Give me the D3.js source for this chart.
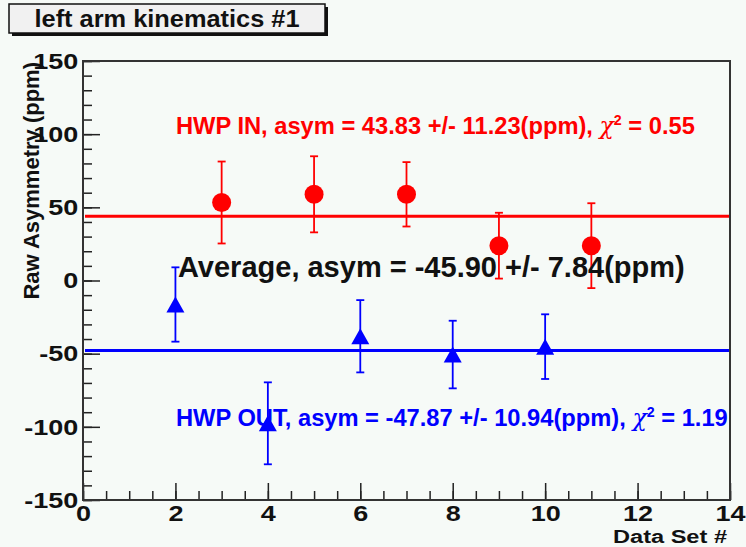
<!DOCTYPE html>
<html>
<head>
<meta charset="utf-8">
<script src="https://cdn.jsdelivr.net/npm/d3@7"></script>
<style>
  html, body { margin: 0; padding: 0; background: #f6faf7; }
  svg { display: block; }
  text { font-family: "Liberation Sans", Arial, Helvetica, sans-serif; font-weight: bold; }
</style>
</head>
<body>
<svg id="chart" width="746" height="547"></svg>
<script>
// HWP IN data sets (odd runs)
const inSets   = [3, 5, 7, 9, 11];
const inAsym   = [53.3, 58.9, 58.9, 23.8, 23.8];
const inErr    = [28.0, 26.0, 22.0, 22.5, 29.0];
// HWP OUT data sets (even runs)
const outSets  = [2, 4, 6, 8, 10];
const outAsym  = [-16.4, -97.6, -38.1, -50.6, -45.2];
const outErr   = [25.4, 28.0, 24.7, 23.1, 22.1];
// fitted constants
const fitIn  = 43.83;
const fitOut = -47.87;
// axis ticks
const xTicks = [0, 2, 4, 6, 8, 10, 12, 14];
const yTicks = [-150, -100, -50, 0, 50, 100, 150];

const svg = d3.select("#chart");
const W = 746, H = 547;
const frame = { left: 83, right: 730, top: 61, bottom: 500 };

const x = d3.scaleLinear().domain([0, 14]).range([frame.left, frame.right]);
const y = d3.scaleLinear().domain([-150, 150]).range([frame.bottom, frame.top]);

// plain hyphen for negatives
const fmt = d => String(d);

svg.append("rect").attr("width", W).attr("height", H).attr("fill", "#f6faf7");

// title box with drop shadow
svg.append("rect").attr("x", 12).attr("y", 7).attr("width", 316).attr("height", 29).attr("fill", "#111");
svg.append("rect").attr("x", 9).attr("y", 4).attr("width", 316).attr("height", 29)
  .attr("fill", "#f1f1f1").attr("stroke", "#111").attr("stroke-width", 1.5);
svg.append("text").attr("x", 167).attr("y", 27).attr("text-anchor", "middle")
  .attr("font-size", 23).attr("textLength", 265).attr("lengthAdjust", "spacingAndGlyphs")
  .attr("fill", "#111").text("left arm kinematics #1");

// axes: ticks point into the frame
const tickStretch = 1.2;
const yMinor = d3.range(-150, 151, 10);
const xMinor = d3.range(0, 14.01, 0.5);

svg.append("g").attr("transform", `translate(${frame.left},0)`)
  .call(d3.axisLeft(y).tickValues(yMinor).tickSize(-9).tickFormat(""))
  .call(g => g.select(".domain").remove())
  .selectAll("line").attr("stroke", "#222").attr("stroke-width", 1.5);

const gy = svg.append("g").attr("transform", `translate(${frame.left},0)`)
  .call(d3.axisLeft(y).tickValues(yTicks).tickSize(-17).tickPadding(4).tickFormat(fmt));
gy.select(".domain").remove();
gy.selectAll("line").attr("stroke", "#222").attr("stroke-width", 1.5);
gy.selectAll("text").attr("font-size", 22.5).attr("fill", "#111")
  .attr("transform", `scale(${tickStretch},1)`);

svg.append("g").attr("transform", `translate(0,${frame.bottom})`)
  .call(d3.axisBottom(x).tickValues(xMinor).tickSize(-9).tickFormat(""))
  .call(g => g.select(".domain").remove())
  .selectAll("line").attr("stroke", "#222").attr("stroke-width", 1.5);

const gx = svg.append("g").attr("transform", `translate(0,${frame.bottom})`)
  .call(d3.axisBottom(x).tickValues(xTicks).tickSize(-17).tickPadding(5).tickFormat(fmt));
gx.select(".domain").remove();
gx.selectAll("line").attr("stroke", "#222").attr("stroke-width", 1.5);
gx.selectAll("text").attr("font-size", 22.5).attr("fill", "#111")
  .attr("transform", `scale(${tickStretch},1)`);

// frame
svg.append("rect").attr("x", frame.left).attr("y", frame.top)
  .attr("width", frame.right - frame.left).attr("height", frame.bottom - frame.top)
  .attr("fill", "none").attr("stroke", "#333").attr("stroke-width", 2);

// axis titles
svg.append("text").attr("transform", "translate(39,62) rotate(-90)").attr("text-anchor", "end")
  .attr("font-size", 22).attr("fill", "#111").text("Raw Asymmetry (ppm)");
svg.append("text").attr("x", 727).attr("y", 543).attr("text-anchor", "end")
  .attr("font-size", 18).attr("textLength", 114).attr("lengthAdjust", "spacingAndGlyphs")
  .attr("fill", "#111").text("Data Set #");

// fit lines
svg.append("line").attr("x1", x(0) + 2).attr("x2", x(14) - 1).attr("y1", y(fitIn)).attr("y2", y(fitIn))
  .attr("stroke", "#ff0000").attr("stroke-width", 3);
svg.append("line").attr("x1", x(0) + 2).attr("x2", x(14) - 1).attr("y1", y(fitOut)).attr("y2", y(fitOut))
  .attr("stroke", "#0000ff").attr("stroke-width", 3);

// error bars + markers
function drawSeries(sets, vals, errs, color, marker) {
  const data = sets.map((s, i) => ({ s, v: vals[i], e: errs[i] }));
  const g = svg.append("g").attr("stroke", color).attr("stroke-width", 1.8);
  g.selectAll(".bar").data(data).join("line")
    .attr("x1", d => x(d.s)).attr("x2", d => x(d.s))
    .attr("y1", d => y(d.v + d.e)).attr("y2", d => y(d.v - d.e));
  g.selectAll(".capT").data(data).join("line")
    .attr("x1", d => x(d.s) - 4).attr("x2", d => x(d.s) + 4)
    .attr("y1", d => y(d.v + d.e)).attr("y2", d => y(d.v + d.e));
  g.selectAll(".capB").data(data).join("line")
    .attr("x1", d => x(d.s) - 4).attr("x2", d => x(d.s) + 4)
    .attr("y1", d => y(d.v - d.e)).attr("y2", d => y(d.v - d.e));
  if (marker === "circle") {
    svg.append("g").selectAll("circle").data(data).join("circle")
      .attr("cx", d => x(d.s)).attr("cy", d => y(d.v)).attr("r", 9.5).attr("fill", color);
  } else {
    svg.append("g").selectAll("path").data(data).join("path")
      .attr("d", d => {
        const cx = x(d.s), cy = y(d.v);
        return `M${cx - 9},${cy + 8}L${cx + 9},${cy + 8}L${cx},${cy - 8}Z`;
      }).attr("fill", color);
  }
}
drawSeries(inSets, inAsym, inErr, "#ff0000", "circle");
drawSeries(outSets, outAsym, outErr, "#0000ff", "triangle");

// fit result labels
function fitLabel(xp, yp, color, size, pre, post) {
  const t = svg.append("text").attr("x", xp).attr("y", yp).attr("font-size", size).attr("fill", color);
  t.append("tspan").text(pre);
  if (post !== null) {
    t.append("tspan").attr("font-family", "'DejaVu Serif', serif").attr("font-weight", "normal")
      .attr("font-style", "italic").text("\u03C7");
    t.append("tspan").attr("font-size", size * 0.6).attr("dy", -size * 0.4).text("2");
    t.append("tspan").attr("dy", size * 0.4).text(post);
  }
}
fitLabel(176, 134, "#ff0000", 23.7, "HWP IN, asym = 43.83 +/- 11.23(ppm), ", " = 0.55");
fitLabel(176, 426, "#0000ff", 23.7, "HWP OUT, asym = -47.87 +/- 10.94(ppm), ", " = 1.19");
fitLabel(178, 277, "#111", 29, "Average, asym = -45.90 +/- 7.84(ppm)", null);
</script>
</body>
</html>
